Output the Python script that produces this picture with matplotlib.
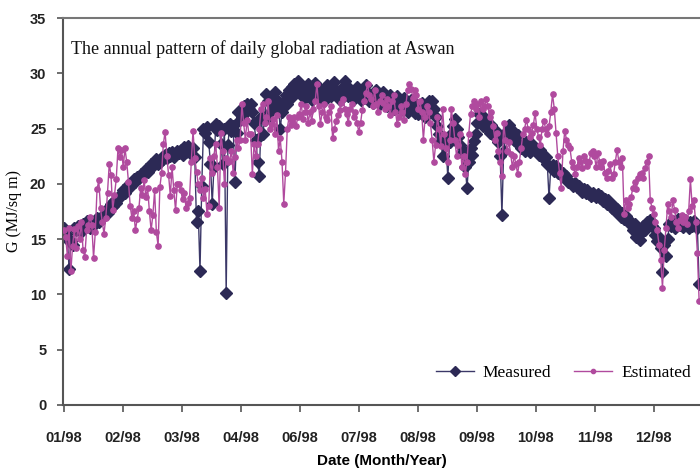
import numpy as np
import matplotlib
matplotlib.use("Agg")
import matplotlib.pyplot as plt

# daily global radiation at Aswan, 1998 (MJ/sq m)
measured = [
    # Jan
    16.0, 15.5, 15.0, 12.3, 14.8, 14.5, 16.0, 15.8, 16.2, 16.0, 15.6, 16.4, 16.3, 16.6, 16.2, 16.0, 16.5,
    16.3, 16.6, 16.9, 16.5, 16.8, 17.0, 17.3, 17.6, 17.4, 17.8, 18.2, 18.0, 18.4, 18.3, 18.6, 18.9,
    # Feb
    19.1, 19.4, 19.2, 19.6, 19.9, 19.7, 20.1, 20.4, 20.2, 20.6, 20.5, 20.9, 20.7, 21.0, 21.3, 21.1, 21.5,
    21.8, 21.6, 21.9, 22.2, 21.8, 22.0, 22.4, 22.2, 22.6, 22.3, 22.8, 22.5, 22.9, 22.4, 22.7, 23.0,
    # Mar
    22.8, 23.1, 22.6, 23.3, 22.9, 23.4, 23.0, 22.7, 23.2, 22.4, 16.5, 17.5, 12.1, 19.8, 25.0, 24.6, 25.1,
    23.8, 21.8, 18.2, 21.5, 25.4, 24.9, 25.2, 23.6, 21.8, 25.0, 10.1, 23.5, 25.4, 24.8, 25.2, 20.2, 24.6,
    # Apr
    26.5, 25.8, 26.0, 27.0, 26.4, 27.2, 26.8, 27.2, 26.5, 25.5, 24.0, 22.0, 20.7, 26.0, 24.5, 25.8, 28.1,
    27.5, 26.5, 27.8, 27.0, 28.3, 27.6, 26.8, 25.0, 26.5, 27.5, 28.0, 27.2, 28.5, 27.8, 28.8, 29.0, 28.5,
    # May / Jun
    29.3, 28.6, 28.0, 28.8, 27.8, 28.5, 29.0, 28.2, 27.6, 28.4, 29.1, 28.3, 27.8, 28.6, 28.1, 27.5, 28.4,
    28.9, 28.2, 27.9, 28.6, 29.2, 28.5, 28.0, 27.6, 28.3, 28.8, 29.3, 28.4, 27.9, 28.6, 28.1, 27.7, 28.2,
    # Jul
    28.8, 28.2, 27.6, 28.4, 27.8, 28.9, 28.2, 27.5, 28.0, 27.3, 27.9, 28.5, 27.6, 27.2, 27.8, 28.3, 27.5,
    27.0, 27.6, 28.0, 27.4, 26.8, 27.5, 27.9, 27.2, 26.7, 27.3, 27.8, 27.0, 26.5, 27.2, 27.6, 26.8, 26.4,
    # Aug
    27.2, 26.3, 26.8, 27.3, 26.5, 26.0, 26.8, 27.5, 26.6, 27.5, 26.8, 26.0, 25.2, 24.5, 23.9, 22.5, 24.0,
    23.5, 20.5, 23.8, 24.5, 25.2, 25.9, 25.0, 24.2, 23.5, 22.8, 23.0, 21.5, 19.6, 22.0, 23.2, 22.6, 23.9,
    # Sep
    24.5, 25.5, 26.3, 25.8, 25.2, 26.0, 25.5, 25.0, 24.6, 25.3, 24.8, 24.2, 24.7, 23.8, 22.5, 17.2, 23.0,
    24.2, 24.8, 25.3, 25.0, 24.6, 24.0, 23.8, 24.4, 23.6, 23.2, 23.6, 23.0, 23.8, 23.4, 22.9, 23.6, 23.3,
    # Oct
    23.2, 23.0, 22.6, 23.1, 22.7, 22.2, 22.4, 21.8, 18.7, 21.5, 21.7, 21.2, 21.6, 21.0, 21.1, 20.8, 21.0,
    20.5, 20.7, 20.2, 20.2, 20.0, 19.8, 20.1, 19.7, 19.8, 19.6, 19.3, 19.5, 19.2, 19.4, 19.1, 18.9, 19.2,
    # Nov
    19.0, 18.8, 19.1, 18.7, 18.9, 18.4, 18.6, 18.2, 18.5, 18.2, 17.8, 18.0, 17.5, 17.7, 17.3, 17.0, 17.4,
    16.8, 17.1, 16.6, 16.7, 16.3, 15.8, 16.4, 15.2, 16.0, 14.9, 15.6, 16.2, 15.8, 16.5, 16.3, 16.7, 16.2,
    # Dec
    16.0, 15.4, 14.8, 15.2, 14.2, 12.0, 14.5, 13.5, 15.0, 16.4, 16.2, 16.6, 16.0, 16.5, 16.8, 16.3, 16.6,
    16.1, 16.7, 16.4, 16.0, 16.5, 16.2, 16.6, 16.3, 16.0, 10.9,
]

estimated = [
    # Jan
    15.8, 15.2, 13.5, 16.0, 12.1, 14.4, 15.9, 14.2, 16.2, 15.0, 16.5, 14.0, 13.4, 15.8, 16.3, 17.0, 16.3,
    13.3, 15.6, 19.5, 20.3, 17.8, 16.5, 15.5, 16.9, 19.2, 21.8, 20.8, 17.6, 19.0, 20.4, 23.2, 22.4,
    # Feb
    23.1, 21.5, 23.2, 22.0, 20.2, 18.0, 16.9, 17.5, 15.8, 16.8, 17.8, 19.6, 19.0, 20.3, 18.8, 19.6, 17.5,
    15.8, 17.2, 19.4, 15.6, 14.4, 19.7, 21.0, 23.6, 24.7, 22.5, 20.8, 18.9, 21.5, 19.4, 17.6, 20.0,
    # Mar
    20.0, 19.4, 18.6, 19.2, 17.8, 18.3, 18.7, 22.0, 24.8, 22.3, 21.1, 20.0, 19.4, 20.5, 18.7, 19.5, 17.3,
    18.0, 22.3, 21.0, 22.5, 23.6, 21.5, 17.8, 24.6, 23.0, 20.0, 22.3, 22.0, 22.1, 23.0, 21.0, 22.4, 24.0,
    # Apr
    23.2, 24.0, 27.2, 25.5, 24.0, 25.8, 24.5, 24.5, 20.9, 23.6, 22.5, 23.6, 25.0, 26.8, 27.2, 25.5, 26.0,
    27.5, 25.0, 25.4, 25.9, 24.5, 26.2, 23.0, 24.1, 22.0, 18.2, 21.0, 25.0, 26.0, 25.3, 25.7, 26.0, 25.2,
    # May / Jun
    26.0, 26.3, 27.2, 25.9, 26.5, 27.0, 25.5, 26.5, 25.7, 26.8, 27.5, 29.0, 27.0, 25.4, 26.5, 27.2, 26.0,
    25.8, 26.5, 27.0, 24.1, 25.0, 25.7, 26.2, 26.7, 27.3, 27.7, 26.8, 26.3, 25.5, 26.8, 27.2, 26.0, 26.5,
    # Jul
    25.5, 24.7, 25.5, 26.7, 27.5, 28.2, 29.0, 28.0, 27.7, 27.0, 28.5, 27.2, 26.5, 27.5, 28.0, 27.3, 26.8,
    27.7, 27.0, 26.2, 27.5, 28.0, 26.5, 25.4, 26.0, 27.0, 26.5, 25.8, 27.2, 28.5, 29.0, 28.6, 27.8, 28.5,
    # Aug
    28.0, 26.8, 27.5, 26.5, 24.0, 26.0, 27.0, 26.5, 25.5, 24.0, 22.0, 23.5, 26.0, 25.0, 23.4, 26.8, 24.5,
    23.2, 22.0, 24.0, 26.8, 25.5, 24.0, 22.5, 23.5, 24.5, 21.5, 22.5, 20.9, 22.0, 24.5, 26.3, 27.0, 27.5,
    # Sep
    26.8, 27.2, 26.0, 27.5, 26.8, 27.0, 27.7, 27.0, 26.0, 26.5, 25.2, 24.0, 24.6, 23.0, 22.0, 20.7, 25.5,
    24.0, 23.0, 23.8, 22.7, 21.5, 22.5, 21.8, 20.9, 22.0, 23.2, 24.5, 25.0, 25.8, 25.0, 24.2, 24.6, 25.3,
    # Oct
    26.4, 25.0, 24.2, 23.5, 25.0, 25.7, 25.0, 24.5, 25.2, 26.5, 28.1, 26.8, 24.6, 22.5, 21.0, 19.6, 23.0,
    24.8, 24.0, 23.5, 23.2, 22.0, 21.5, 20.9, 21.5, 22.3, 22.0, 21.4, 22.5, 22.1, 21.6, 22.0, 22.8, 23.0,
    # Nov
    22.5, 21.5, 22.8, 22.0, 21.5, 22.1, 21.0, 20.5, 21.2, 21.8, 20.5, 20.9, 22.0, 23.1, 22.0, 21.5, 22.3,
    17.3, 18.5, 17.8, 18.2, 18.8, 19.6, 20.2, 19.5, 20.5, 20.9, 21.0, 20.5, 21.4, 22.0, 22.5, 18.5, 17.8,
    # Dec
    17.3, 16.5, 15.8, 14.5, 13.1, 10.6, 14.0, 16.0, 18.2, 17.5, 17.0, 18.5, 17.6, 16.5, 16.0, 16.7, 17.2,
    16.5, 17.0, 16.4, 17.5, 20.4, 18.0, 18.5, 16.5, 13.7, 9.4,
]

month_labels = ["01/98", "02/98", "03/98", "04/98", "06/98", "07/98",
                "08/98", "09/98", "10/98", "11/98", "12/98"]


def main():
    days = np.arange(len(measured))

    fig = plt.figure(figsize=(7.0, 4.74), dpi=100)
    ax = fig.add_axes([0.09, 0.146, 0.91, 0.816])

    ax.plot(days, measured, color="#3b3868", linewidth=1.0,
            marker="D", markersize=5.8, markerfacecolor="#2c2955",
            markeredgecolor="#2c2955", label="Measured", zorder=2)
    ax.plot(days, estimated, color="#b04a9e", linewidth=1.0,
            marker="o", markersize=3.8, markerfacecolor="#b04a9e",
            markeredgecolor="#b04a9e", label="Estimated", zorder=3)

    ax.set_xlim(-0.5, 364.5)
    ax.set_ylim(0, 35)
    ax.set_yticks(np.arange(0, 36, 5))
    ax.set_xticks(np.arange(len(month_labels)) * 33.8)
    ax.set_xticklabels(month_labels)

    for lab in ax.get_xticklabels() + ax.get_yticklabels():
        lab.set_fontweight("bold")
        lab.set_fontfamily("Liberation Sans")
        lab.set_fontsize(10.5)
        lab.set_color("#222222")
    ax.tick_params(axis="x", direction="out", length=5, width=1.2,
                   color="#555555", pad=14)
    ax.tick_params(axis="y", direction="out", length=4, width=1.2,
                   color="#555555", pad=8)

    ax.spines["right"].set_visible(False)
    for side in ["left", "bottom"]:
        ax.spines[side].set_color("#555555")
        ax.spines[side].set_linewidth(1.5)
    ax.spines["top"].set_color("#777777")
    ax.spines["top"].set_linewidth(1.5)

    ax.set_xlabel("Date (Month/Year)", fontfamily="Liberation Sans",
                  fontweight="bold", fontsize=11, labelpad=6)
    ax.set_ylabel("G (MJ/sq m)", fontfamily="Liberation Serif",
                  fontsize=11.5, labelpad=6)

    ax.text(0.012, 0.92, "The annual pattern of daily global radiation at Aswan",
            transform=ax.transAxes, fontfamily="Liberation Serif",
            fontsize=13, color="#111111", va="center", ha="left")

    ax.legend(loc="lower right", ncol=2, frameon=False,
              prop={"family": "Liberation Serif", "size": 12.5},
              bbox_to_anchor=(1.01, 0.02), handlelength=2.2,
              markerscale=0.8, columnspacing=1.3, handletextpad=0.5)

    fig.savefig("out.png", dpi=100)
    plt.close(fig)


if __name__ == "__main__":
    main()
